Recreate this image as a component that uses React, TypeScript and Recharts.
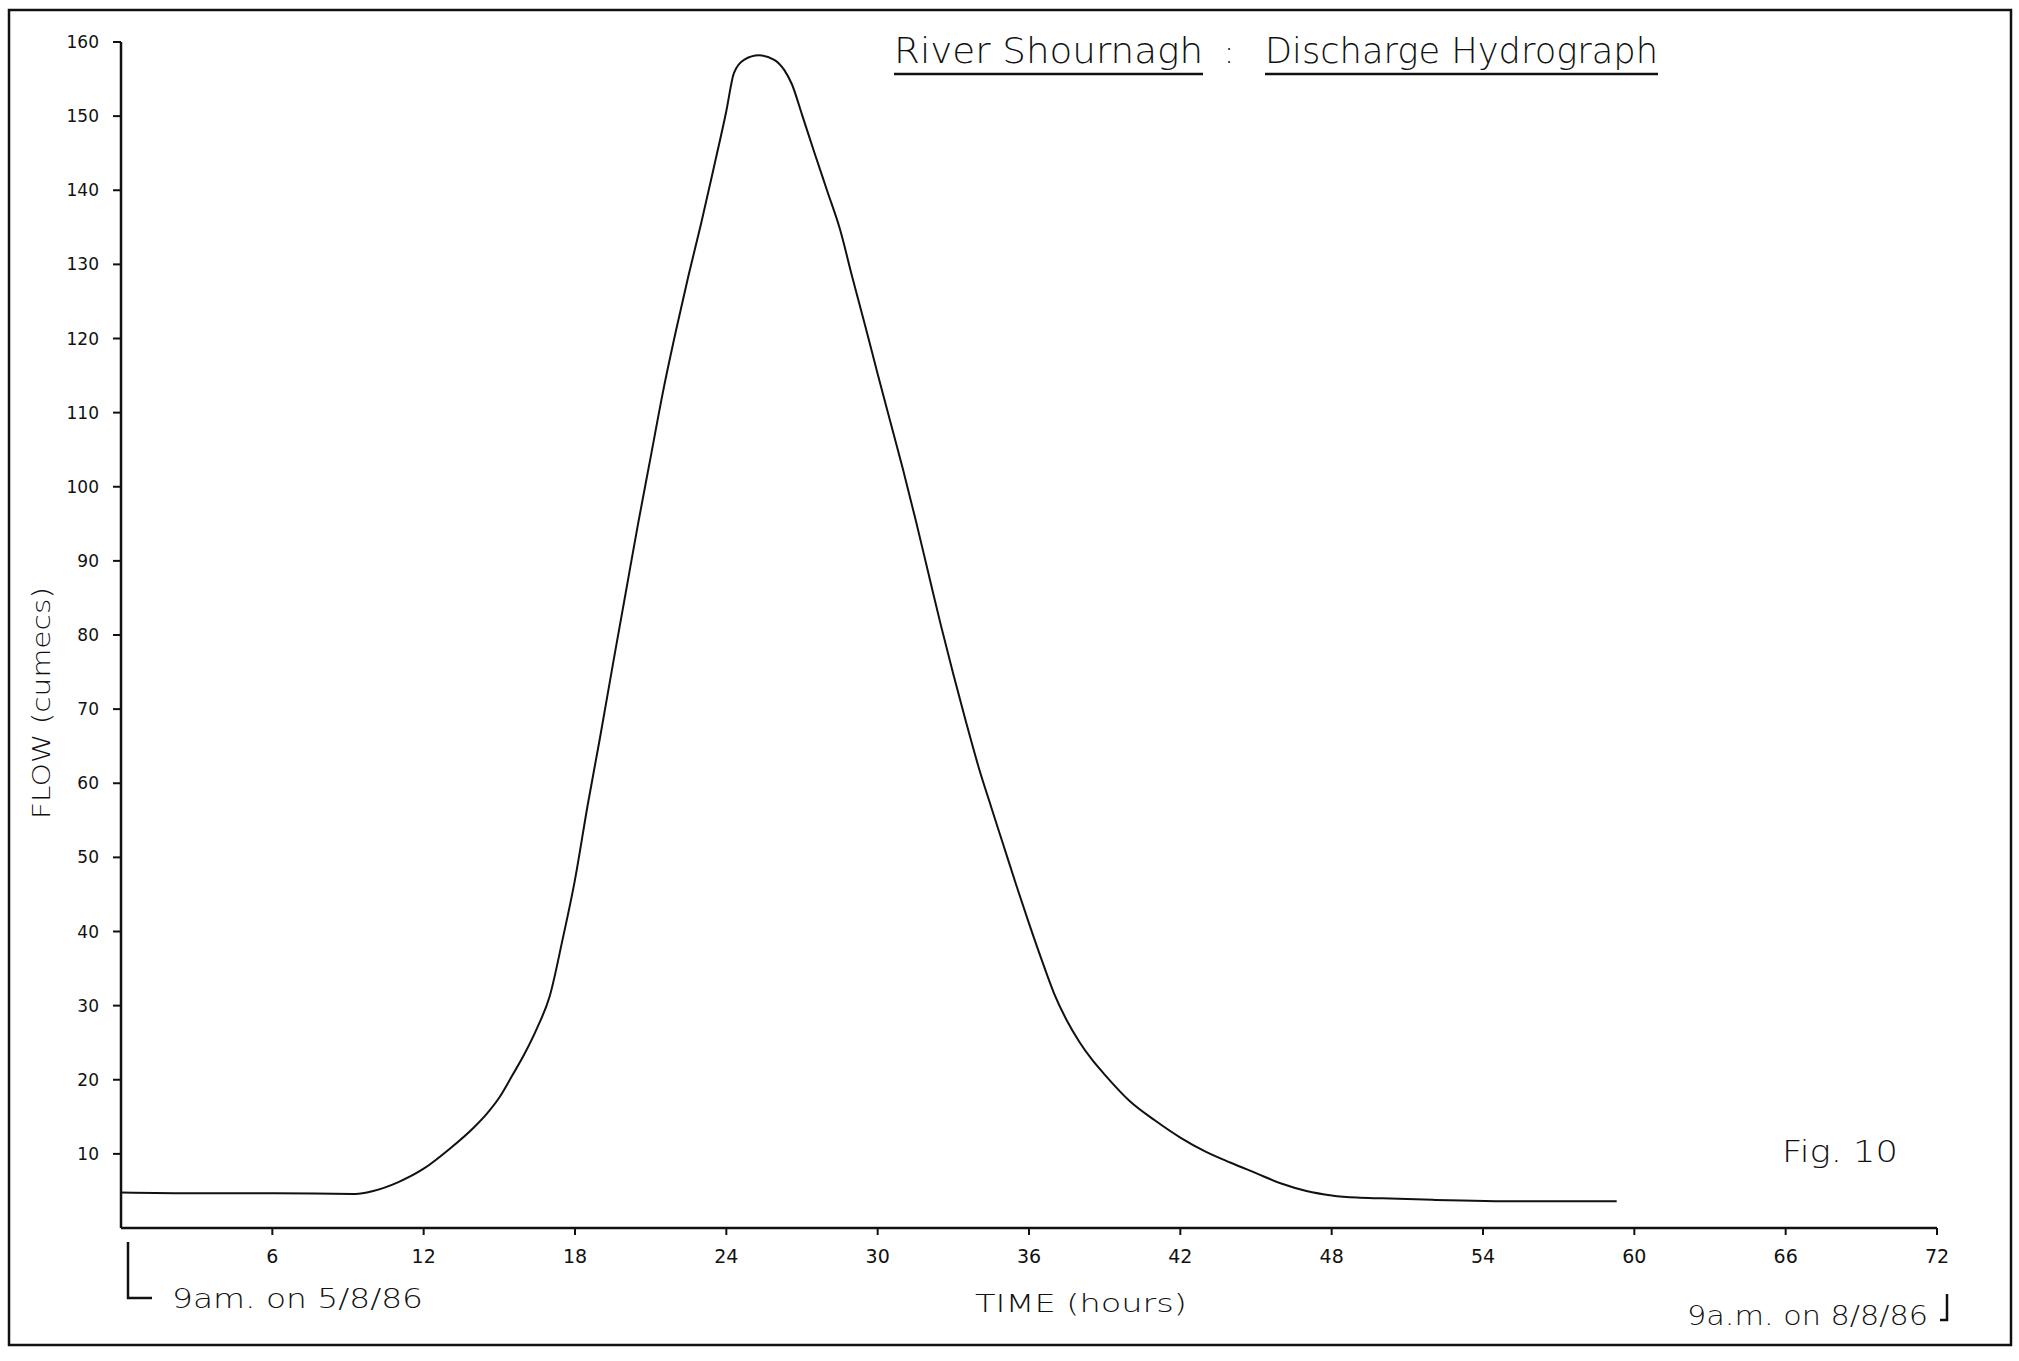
import React from 'react';
import { LineChart, Line, XAxis, YAxis, Customized } from 'recharts';

// Time since 9 a.m. on 5/8/86 (hours)
const hours = [
  0, 3, 6, 9.3, 10, 11, 12, 13, 14, 14.5, 15, 15.5, 16, 16.5, 17, 17.5, 18, 18.5, 19, 19.5,
  20, 20.5, 21, 21.5, 22, 22.5, 23, 23.5, 24, 24.3, 24.7, 25.3, 25.9, 26.3, 26.6, 27, 27.5,
  28, 28.5, 29, 29.5, 30, 30.5, 31, 31.5, 32, 32.5, 33, 33.5, 34, 34.5, 35, 35.5, 36, 36.5,
  37, 37.5, 38, 38.5, 39, 40, 41, 42, 43, 44, 45, 46, 47, 48, 49, 50, 52, 55.5, 59.3,
];

// Discharge (cumecs)
const flow = [
  4.8, 4.7, 4.7, 4.6, 5.0, 6.2, 8.0, 10.6, 13.6, 15.4, 17.6, 20.5, 23.5, 27, 31.3, 38.8, 47, 57, 66.3, 76,
  85.5, 95, 104, 113, 121, 128.5, 135.5, 143, 150.7, 155.8, 157.6, 158.2, 157.6, 156.2, 154.3, 150.2, 145,
  139.9, 134.8, 128.2, 121.8, 115.2, 108.8, 102.4, 95.6, 88.5, 81.4, 74.7, 68.3, 62.2, 56.8, 51.5, 46.2, 41.1, 36.2,
  31.6, 28.0, 25.1, 22.7, 20.7, 17.1, 14.5, 12.2, 10.3, 8.8, 7.4, 6.0, 5.0, 4.4, 4.1, 4.0, 3.8, 3.6, 3.6,
];

const xTicks = [6, 12, 18, 24, 30, 36, 42, 48, 54, 60, 66, 72];
const yTicks = [10, 20, 30, 40, 50, 60, 70, 80, 90, 100, 110, 120, 130, 140, 150, 160];

const titleLeft = 'River Shournagh';
const titleSep = ':';
const titleRight = 'Discharge Hydrograph';
const xAxisTitle = 'TIME (hours)';
const yAxisTitle = 'FLOW (cumecs)';
const startLabel = '9am. on 5/8/86';
const endLabel = '9a.m. on 8/8/86';
const figLabel = 'Fig. 10';

const data = hours.map((h, i) => ({ hour: h, flow: flow[i] }));

const INK = '#111111';
const FONT = '"DejaVu Sans", "Liberation Sans", Arial, sans-serif';

const Annotations = () => (
  <g fontFamily={FONT} fill={INK} fontWeight={300}>
    {/* outer frame */}
    <rect x={9} y={10} width={2002} height={1335} fill="none" stroke={INK} strokeWidth={2.5} />

    {/* title */}
    <text x={894} y={63} fontSize={36} textLength={309} lengthAdjust="spacingAndGlyphs">{titleLeft}</text>
    <text x={1229} y={63} fontSize={30} textAnchor="middle">{titleSep}</text>
    <text x={1265} y={63} fontSize={36} textLength={393} lengthAdjust="spacingAndGlyphs">{titleRight}</text>
    <line x1={894} y1={74} x2={1203} y2={74} stroke={INK} strokeWidth={2.5} />
    <line x1={1265} y1={74} x2={1658} y2={74} stroke={INK} strokeWidth={2.5} />

    {/* axis titles */}
    <text x={975} y={1312} fontSize={25} textLength={212} lengthAdjust="spacingAndGlyphs">{xAxisTitle}</text>
    <text
      transform="translate(50,703) rotate(-90)"
      x={0}
      y={0}
      fontSize={25}
      textAnchor="middle"
      textLength={232}
      lengthAdjust="spacingAndGlyphs"
    >
      {yAxisTitle}
    </text>

    {/* start / end time markers */}
    <polyline points="128,1242 128,1298 152,1298" fill="none" stroke={INK} strokeWidth={2.5} />
    <text x={172} y={1308} fontSize={26} textLength={251} lengthAdjust="spacingAndGlyphs">{startLabel}</text>
    <polyline points="1947,1294 1947,1320 1940,1320" fill="none" stroke={INK} strokeWidth={2.5} />
    <text x={1687} y={1325} fontSize={27} textLength={241} lengthAdjust="spacingAndGlyphs">{endLabel}</text>

    {/* figure number */}
    <text x={1782} y={1162} fontSize={30} textLength={116} lengthAdjust="spacingAndGlyphs">{figLabel}</text>
  </g>
);

export default function App() {
  return (
    <div style={{ position: 'absolute', left: 0, top: 0, width: 2019, height: 1361, background: '#ffffff' }}>
      <LineChart
        width={2019}
        height={1361}
        data={data}
        margin={{ top: 42, right: 82, bottom: 83, left: 61 }}
      >
        <XAxis
          dataKey="hour"
          type="number"
          domain={[0, 72]}
          ticks={xTicks}
          interval={0}
          tickSize={7}
          tickMargin={15}
          height={50}
          axisLine={{ stroke: INK, strokeWidth: 2.5 }}
          tickLine={{ stroke: INK, strokeWidth: 2 }}
          tick={{ fill: INK, fontSize: 19, fontFamily: FONT }}
          allowDataOverflow
        />
        <YAxis
          type="number"
          domain={[0, 160]}
          ticks={yTicks}
          interval={0}
          width={60}
          tickSize={8}
          tickMargin={14}
          axisLine={{ stroke: INK, strokeWidth: 2.5 }}
          tickLine={{ stroke: INK, strokeWidth: 2 }}
          tick={{ fill: INK, fontSize: 17, fontFamily: FONT }}
          allowDataOverflow
        />
        <Line
          type="monotone"
          dataKey="flow"
          stroke={INK}
          strokeWidth={2}
          dot={false}
          activeDot={false}
          isAnimationActive={false}
        />
        <Customized component={Annotations} />
      </LineChart>
    </div>
  );
}
